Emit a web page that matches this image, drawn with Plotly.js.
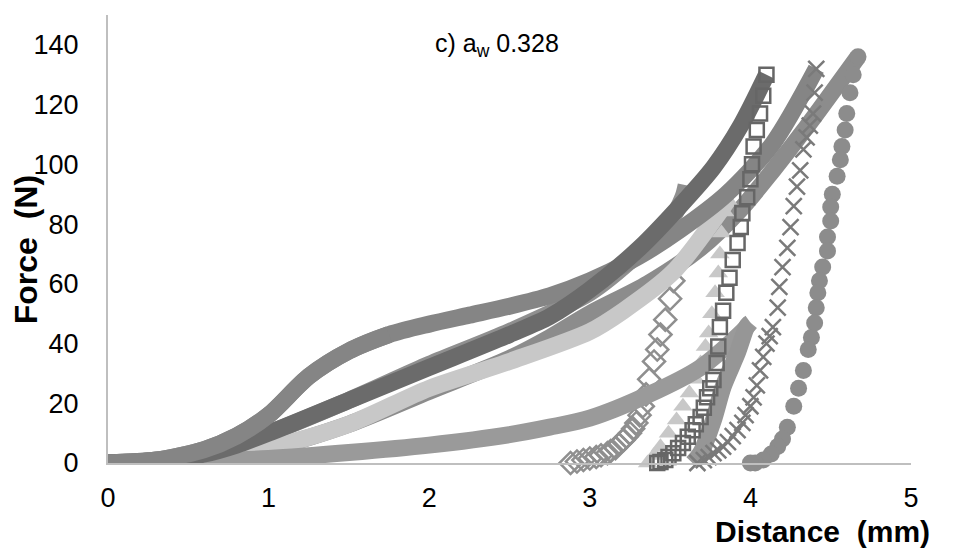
<!DOCTYPE html>
<html>
<head>
<meta charset="utf-8">
<script src="https://cdn.plot.ly/plotly-3.0.1.min.js"></script>
<style>html,body{margin:0;padding:0;background:#fff;}#chart{width:959px;height:552px;}</style>
</head>
<body>
<div id="chart"></div>
<script>
// ---- Data (Distance in mm, Force in N) ----
// Series with squares (dark)
const sqLoadX = [0, 0.3, 0.6, 0.8, 1, 1.5, 2, 2.5, 2.75, 3, 3.31, 3.56, 3.77, 3.94, 4.1];
const sqLoadY = [0, 0.5, 3, 6, 10, 21, 32, 43, 49, 58, 72, 86, 99, 113, 130];
const sqUnX = [4.1, 4.08, 4.06, 4.04, 4.02, 4.01, 4.0, 3.98, 3.95, 3.94, 3.92, 3.89, 3.87, 3.85, 3.83, 3.81, 3.8, 3.79, 3.77, 3.75, 3.73, 3.71, 3.69, 3.66, 3.64, 3.61, 3.58, 3.55, 3.52, 3.49, 3.47, 3.44, 3.42];
const sqUnY = [130, 123, 117, 111.5, 106, 100, 95, 89, 83.6, 79, 73.7, 68, 62, 57, 51, 45.5, 39, 33.5, 27.8, 25, 22, 18.5, 15.4, 13, 11, 8.8, 6.7, 5, 3.3, 2, 1, 0.3, 0];

// Series with stars / x markers
const stLoadX = [0, 0.3, 0.6, 0.8, 1, 1.25, 1.5, 1.75, 2, 2.25, 2.5, 2.75, 3, 3.3, 3.56, 3.85, 4.14, 4.41];
const stLoadY = [0, 1, 4.5, 9, 16, 29, 37.5, 43, 46.5, 49.5, 52.5, 56, 61, 69, 78, 90, 107, 132];
const stUnX = [4.41, 4.4, 4.39, 4.37, 4.35, 4.33, 4.31, 4.29, 4.27, 4.25, 4.23, 4.2, 4.18, 4.17, 4.14, 4.12, 4.1, 4.08, 4.06, 4.04, 4.02, 4.0, 3.97, 3.95, 3.92, 3.89, 3.86, 3.83, 3.8, 3.77, 3.74, 3.71, 3.67];
const stUnY = [132, 124, 117, 113, 109, 105, 98, 92.5, 86, 79, 72, 65.6, 59, 52, 45.5, 42.5, 40, 35.5, 31, 26, 22, 19, 16, 13.4, 11, 9, 7, 5.5, 4.2, 3.3, 2, 1, 0];

// Series with circles
const ciLoadX = [0, 0.5, 1, 1.5, 2, 2.5, 2.75, 3, 3.36, 3.69, 3.94, 4.14, 4.35, 4.67];
const ciLoadY = [0, 1.5, 5, 13, 24, 35, 42, 50, 60, 72, 85, 98, 112.5, 136];
const ciUnX = [4.67, 4.64, 4.62, 4.6, 4.59, 4.57, 4.56, 4.54, 4.51, 4.5, 4.5, 4.48, 4.48, 4.45, 4.43, 4.42, 4.41, 4.4, 4.38, 4.36, 4.33, 4.3, 4.27, 4.23, 4.2, 4.17, 4.13, 4.08, 4.03, 4.0];
const ciUnY = [136, 130, 124, 117, 111.5, 106, 101.5, 96, 90, 85.7, 81, 75.7, 71, 65.6, 61, 57, 52, 46.9, 42, 38, 31, 25, 19, 12, 8, 5.5, 3, 1, 0, 0];

// Series with light triangles
const trLoadX = [0, 0.5, 1, 1.5, 2, 2.5, 3, 3.21, 3.52, 3.86];
const trLoadY = [0, 1, 5, 13, 25, 34, 44, 51, 64, 88];
const trUnX = [3.86, 3.84, 3.82, 3.81, 3.8, 3.78, 3.76, 3.74, 3.72, 3.69, 3.66, 3.62, 3.58, 3.54, 3.49, 3.44, 3.4, 3.36];
const trUnY = [88, 84, 77, 70, 63.6, 57, 50, 43.5, 39, 33.5, 28, 23.4, 19, 14.4, 10, 5.4, 2.5, 0];

// Series with diamonds
const diLoadX = [0, 0.5, 1, 1.5, 2, 2.5, 3, 3.3, 3.5, 3.58, 3.6];
const diLoadY = [0, 2, 10, 21, 33, 44, 57, 70, 81, 89, 93];
const diUnX = [3.52, 3.5, 3.47, 3.44, 3.42, 3.4, 3.37, 3.35, 3.33, 3.31, 3.29, 3.27, 3.25, 3.23, 3.21, 3.18, 3.16, 3.13, 3.11, 3.07, 3.04, 3.0, 2.96, 2.92, 2.88];
const diUnY = [61, 55, 48, 43, 38, 34, 28, 23, 19, 16, 13.4, 11.5, 10, 8.8, 7.7, 6.2, 5, 4, 3.3, 2.6, 2, 1.5, 1, 0.5, 0];

// Lowest series (medium grey)
const loLoadX = [0, 0.5, 1, 1.5, 2, 2.5, 2.75, 3, 3.37, 3.69, 3.95, 4.0];
const loLoadY = [0, 0.5, 1.5, 3.5, 6, 9.5, 12, 15, 23, 32, 44, 47];
const loUnX = [4.0, 3.98, 3.92, 3.83, 3.77, 3.69, 3.64];
const loUnY = [47, 46, 37, 25.5, 14.4, 3.3, 0];

// Tick values
const xTicks = [0, 1, 2, 3, 4, 5];
const yTicks = [0, 20, 40, 60, 80, 100, 120, 140];

// ---- Styles ----
const BAND = 17;
function band(x, y, color) {
  return {x: x, y: y, type: 'scatter', mode: 'lines', cliponaxis: false,
    line: {color: color, width: BAND, shape: 'spline', smoothing: 0.8}, hoverinfo: 'skip', showlegend: false};
}
function pts(x, y, symbol, color, size, filled) {
  return {x: x, y: y, type: 'scatter', mode: 'markers', cliponaxis: false, showlegend: false,
    marker: filled ? {symbol: symbol, color: color, size: size, line: {width: 0}}
                   : {symbol: symbol, color: color, size: size, line: {color: color, width: 2.5}}};
}

// the early (hump) part of the star curve lies over the dark band, the later part under it
const STAR_EARLY = 8;
const traces = [
  band(diLoadX, diLoadY, '#8f8f8f'),
  pts(diUnX, diUnY, 'diamond-open', '#8f8f8f', 17, false),
  band(ciLoadX, ciLoadY, '#8c8c8c'),
  pts(ciUnX, ciUnY, 'circle', '#8c8c8c', 17, true),
  band(trLoadX, trLoadY, '#c8c8c8'),
  pts(trUnX, trUnY, 'triangle-up', '#c8c8c8', 17, true),
  band(loLoadX, loLoadY, '#9a9a9a'),
  band(loUnX, loUnY, '#969696'),
  band(stLoadX, stLoadY, '#858585'),
  band(sqLoadX, sqLoadY, '#6b6b6b'),
  band(stLoadX.slice(0, STAR_EARLY), stLoadY.slice(0, STAR_EARLY), '#858585'),
  pts(stUnX, stUnY, 'x-thin-open', '#7a7a7a', 16, false),
  pts(sqUnX, sqUnY, 'square-open', '#666666', 14, false)
];

const tickFont = {family: 'Liberation Sans, Arial, sans-serif', size: 27, color: '#000'};
const layout = {
  width: 959, height: 552,
  margin: {l: 108, r: 48, t: 15, b: 89},
  paper_bgcolor: '#fff', plot_bgcolor: '#fff',
  showlegend: false,
  xaxis: {range: [0, 5], tickvals: xTicks, ticktext: xTicks.map(String), showgrid: false, zeroline: false,
    showline: true, linecolor: '#bfbfbf', linewidth: 2, ticks: '', tickfont: tickFont, ticklabelstandoff: 10, fixedrange: true},
  yaxis: {range: [0, 150], tickvals: yTicks, ticktext: yTicks.map(String), showgrid: false, zeroline: false,
    showline: true, linecolor: '#bfbfbf', linewidth: 2, ticks: '', tickfont: tickFont, ticklabelstandoff: 22, fixedrange: true},
  annotations: [
    {text: 'c) a<sub>w</sub> 0.328', xref: 'paper', yref: 'paper', x: 0.484, y: 0.933, showarrow: false,
      xanchor: 'center', yanchor: 'middle', font: {family: 'Liberation Sans, Arial, sans-serif', size: 25, color: '#000'}},
    {text: '<b>Distance  (mm)</b>', xref: 'paper', yref: 'paper', x: 0.89, y: -0.152, showarrow: false,
      xanchor: 'center', yanchor: 'middle', font: {family: 'Liberation Sans, Arial, sans-serif', size: 30, color: '#000'}},
    {text: '<b>Force  (N)</b>', xref: 'paper', yref: 'paper', x: -0.102, y: 0.475, showarrow: false, textangle: -90,
      xanchor: 'center', yanchor: 'middle', font: {family: 'Liberation Sans, Arial, sans-serif', size: 32, color: '#000'}}
  ]
};

Plotly.newPlot('chart', traces, layout, {displayModeBar: false, staticPlot: true});
</script>
</body>
</html>
